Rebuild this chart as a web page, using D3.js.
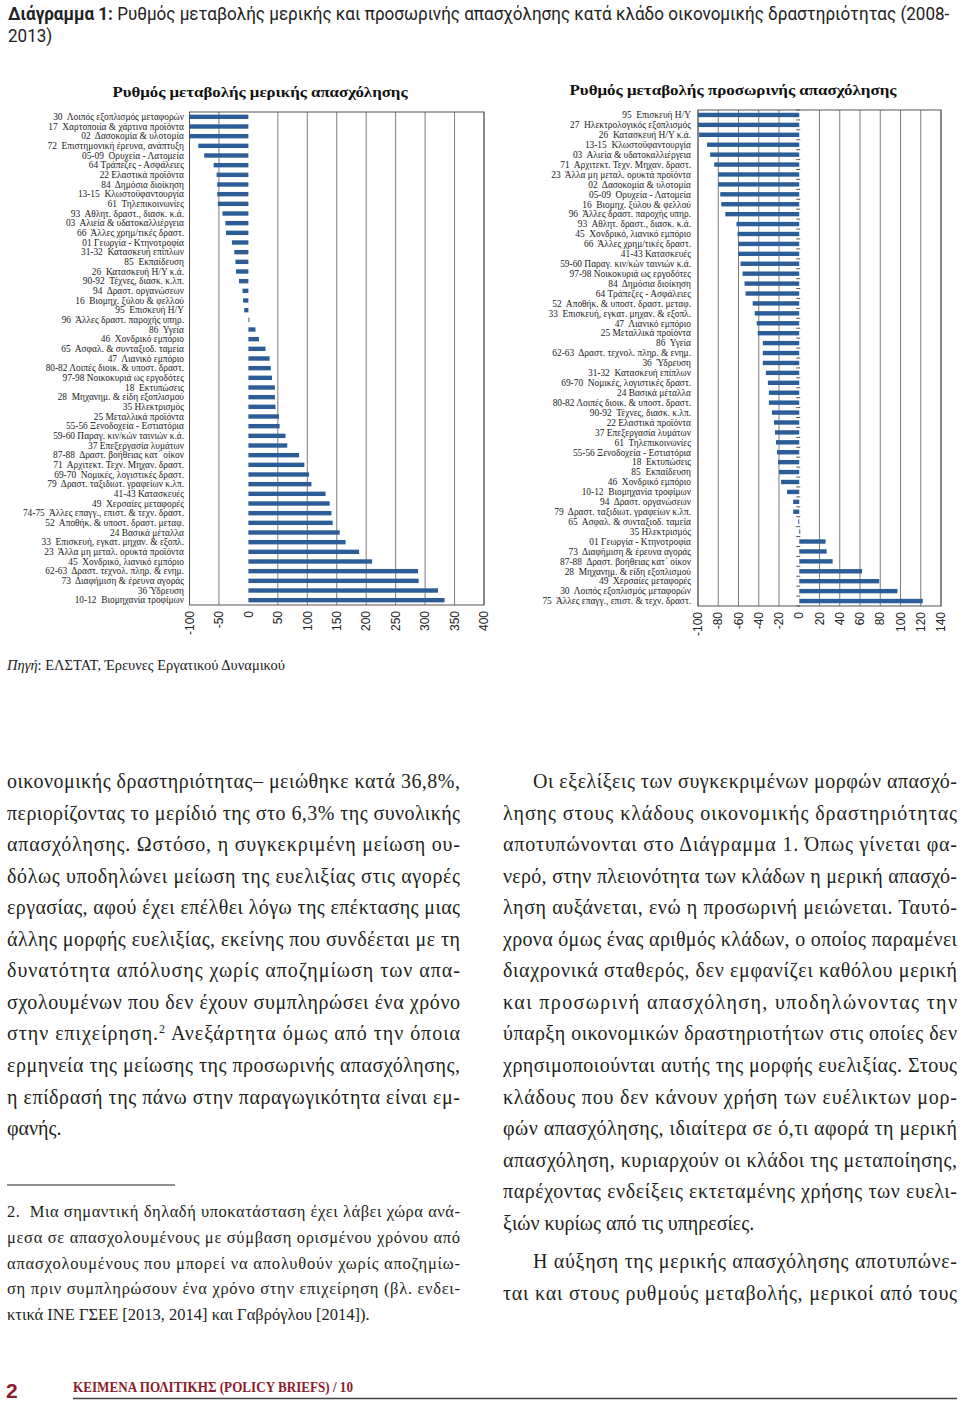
<!DOCTYPE html>
<html>
<head>
<meta charset="utf-8">
<script src="https://cdn.jsdelivr.net/npm/d3@7/dist/d3.min.js"></script>
<style>
body { margin: 0; background: #ffffff; }
</style>
</head>
<body>
<div class="page"></div>
<script>
// rate of change of part-time employment by sector, 2008-2013 (%)
var partLabels = [
    "30  Λοιπός εξοπλισμός μεταφορών", "17  Χαρτοποιία & χάρτινα προϊόντα", "02  Δασοκομία & υλοτομία",
    "72  Επιστημονική έρευνα, ανάπτυξη", "05-09  Ορυχεία - Λατομεία", "64 Τράπεζες - Ασφάλειες",
    "22 Ελαστικά προϊόντα", "84  Δημόσια διοίκηση", "13-15  Κλωστοϋφαντουργία", "61  Τηλεπικοινωνίες",
    "93  Αθλητ. δραστ., διασκ. κ.ά.", "03  Αλιεία & υδατοκαλλιέργεια", "66  Άλλες χρημ/τικές δραστ.",
    "01 Γεωργία - Κτηνοτροφία", "31-32  Κατασκευή επίπλων", "85  Εκπαίδευση", "26  Κατασκευή Η/Υ κ.ά.",
    "90-92  Τέχνες, διασκ. κ.λπ.", "94  Δραστ. οργανώσεων", "16  Βιομηχ. ξύλου & φελλού", "95  Επισκευή Η/Υ",
    "96  Άλλες δραστ. παροχής υπηρ.", "86  Υγεία", "46  Χονδρικό εμπόριο", "65  Ασφαλ. & συνταξιοδ. ταμεία",
    "47  Λιανικό εμπόριο", "80-82 Λοιπές διοικ. & υποστ. δραστ.", "97-98 Νοικοκυριά ως εργοδότες",
    "18  Εκτυπώσεις", "28  Μηχανημ. & είδη εξοπλισμού", "35 Ηλεκτρισμός", "25 Μεταλλικά προϊόντα",
    "55-56 Ξενοδοχεία - Εστιατόρια", "59-60 Παραγ. κιν/κών ταινιών κ.ά.", "37 Επεξεργασία λυμάτων",
    "87-88  Δραστ. βοήθειας κατ΄ οίκον", "71  Αρχιτεκτ. Τεχν. Μηχαν. δραστ.", "69-70  Νομικές, λογιστικές δραστ.",
    "79  Δραστ. ταξιδιωτ. γραφείων κ.λπ.", "41-43 Κατασκευές", "49  Χερσαίες μεταφορές",
    "74-75  Άλλες επαγγ., επιστ. & τεχν. δραστ.", "52  Αποθήκ. & υποστ. δραστ. μεταφ.", "24 Βασικά μέταλλα",
    "33  Επισκευή, εγκατ. μηχαν. & εξοπλ.", "23  Άλλα μη μεταλ. ορυκτά προϊόντα", "45  Χονδρικό, λιανικό εμπόριο",
    "62-63  Δραστ. τεχνολ. πληρ. & ενημ.", "73  Διαφήμιση & έρευνα αγοράς", "36 Ύδρευση", "10-12  Βιομηχανία τροφίμων"
];
var partValues = [-100, -100, -100, -85, -75, -59, -54, -53, -53, -52, -44, -39, -38, -28, -24, -22, -21, -16, -10, -9,
    -7, 1, 12, 18, 29, 36, 38, 40, 45, 45, 46, 52, 53, 63, 66, 86, 95, 103, 107, 131, 138, 141, 143, 155, 165, 188,
    210, 288, 289, 322, 333];
var partTicks = [-100, -50, 0, 50, 100, 150, 200, 250, 300, 350, 400];

// rate of change of temporary employment by sector, 2008-2013 (%)
var tempLabels = [
    "95  Επισκευή Η/Υ", "27  Ηλεκτρολογικός εξοπλισμός", "26  Κατασκευή Η/Υ κ.ά.", "13-15  Κλωστοϋφαντουργία",
    "03  Αλιεία & υδατοκαλλιέργεια", "71  Αρχιτεκτ. Τεχν. Μηχαν. δραστ.", "23  Άλλα μη μεταλ. ορυκτά προϊόντα",
    "02  Δασοκομία & υλοτομία", "05-09  Ορυχεία - Λατομεία", "16  Βιομηχ. ξύλου & φελλού",
    "96  Άλλες δραστ. παροχής υπηρ.", "93  Αθλητ. δραστ., διασκ. κ.ά.", "45  Χονδρικό, λιανικό εμπόριο",
    "66  Άλλες χρημ/τικές δραστ.", "41-43 Κατασκευές", "59-60 Παραγ. κιν/κών ταινιών κ.ά.",
    "97-98 Νοικοκυριά ως εργοδότες", "84  Δημόσια διοίκηση", "64 Τράπεζες - Ασφάλειες",
    "52  Αποθήκ. & υποστ. δραστ. μεταφ.", "33  Επισκευή, εγκατ. μηχαν. & εξοπλ.", "47  Λιανικό εμπόριο",
    "25 Μεταλλικά προϊόντα", "86  Υγεία", "62-63  Δραστ. τεχνολ. πληρ. & ενημ.", "36  Ύδρευση",
    "31-32  Κατασκευή επίπλων", "69-70  Νομικές, λογιστικές δραστ.", "24 Βασικά μέταλλα",
    "80-82 Λοιπές διοικ. & υποστ. δραστ.", "90-92  Τέχνες, διασκ. κ.λπ.", "22 Ελαστικά προϊόντα",
    "37 Επεξεργασία λυμάτων", "61  Τηλεπικοινωνίες", "55-56 Ξενοδοχεία - Εστιατόρια", "18  Εκτυπώσεις",
    "85  Εκπαίδευση", "46  Χονδρικό εμπόριο", "10-12  Βιομηχανία τροφίμων", "94  Δραστ. οργανώσεων",
    "79  Δραστ. ταξιδιωτ. γραφείων κ.λπ.", "65  Ασφαλ. & συνταξιοδ. ταμεία", "35 Ηλεκτρισμός",
    "01 Γεωργία - Κτηνοτροφία", "73  Διαφήμιση & έρευνα αγοράς", "87-88  Δραστ. βοήθειας κατ΄ οίκον",
    "28  Μηχανημ. & είδη εξοπλισμού", "49  Χερσαίες μεταφορές", "30  Λοιπός εξοπλισμός μεταφορών",
    "75  Άλλες επαγγ., επιστ. & τεχν. δραστ."
];
var tempValues = [-100, -100, -99, -91, -88, -84, -80, -80, -78, -77, -73, -62, -61, -60, -60, -58, -56, -54, -53,
    -46, -44, -42, -41, -36, -36, -36, -33, -31, -30, -30, -27, -25, -24, -23, -22, -21, -20, -18, -12, -6, -6, -1,
    1, 26, 27, 33, 62, 79, 97, 122];
var tempTicks = [-100, -80, -60, -40, -20, 0, 20, 40, 60, 80, 100, 120, 140];

// page text
var leftLines = [
    "οικονομικής δραστηριότητας– μειώθηκε κατά 36,8%,",
    "περιορίζοντας το μερίδιό της στο 6,3% της συνολικής",
    "απασχόλησης. Ωστόσο, η συγκεκριμένη μείωση ου-",
    "δόλως υποδηλώνει μείωση της ευελιξίας στις αγορές",
    "εργασίας, αφού έχει επέλθει λόγω της επέκτασης μιας",
    "άλλης μορφής ευελιξίας, εκείνης που συνδέεται με τη",
    "δυνατότητα απόλυσης χωρίς αποζημίωση των απα-",
    "σχολουμένων που δεν έχουν συμπληρώσει ένα χρόνο",
    "στην επιχείρηση.{2} Ανεξάρτητα όμως από την όποια",
    "ερμηνεία της μείωσης της προσωρινής απασχόλησης,",
    "η επίδρασή της πάνω στην παραγωγικότητα είναι εμ-",
    "φανής."
];
var rightLines1 = [
    "Οι εξελίξεις των συγκεκριμένων μορφών απασχό-",
    "λησης στους κλάδους οικονομικής δραστηριότητας",
    "αποτυπώνονται στο Διάγραμμα 1. Όπως γίνεται φα-",
    "νερό, στην πλειονότητα των κλάδων η μερική απασχό-",
    "ληση αυξάνεται, ενώ η προσωρινή μειώνεται. Ταυτό-",
    "χρονα όμως ένας αριθμός κλάδων, ο οποίος παραμένει",
    "διαχρονικά σταθερός, δεν εμφανίζει καθόλου μερική",
    "και προσωρινή απασχόληση, υποδηλώνοντας την",
    "ύπαρξη οικονομικών δραστηριοτήτων στις οποίες δεν",
    "χρησιμοποιούνται αυτής της μορφής ευελιξίας. Στους",
    "κλάδους που δεν κάνουν χρήση των ευέλικτων μορ-",
    "φών απασχόλησης, ιδιαίτερα σε ό,τι αφορά τη μερική",
    "απασχόληση, κυριαρχούν οι κλάδοι της μεταποίησης,",
    "παρέχοντας ενδείξεις εκτεταμένης χρήσης των ευελι-",
    "ξιών κυρίως από τις υπηρεσίες."
];
var rightLines2 = [
    "Η αύξηση της μερικής απασχόλησης αποτυπώνε-",
    "ται και στους ρυθμούς μεταβολής, μερικοί από τους"
];
var noteLines = [
    "2.  Μια σημαντική δηλαδή υποκατάσταση έχει λάβει χώρα ανά-",
    "μεσα σε απασχολουμένους με σύμβαση ορισμένου χρόνου από",
    "απασχολουμένους που μπορεί να απολυθούν χωρίς αποζημίω-",
    "ση πριν συμπληρώσουν ένα χρόνο στην επιχείρηση (βλ. ενδει-",
    "κτικά ΙΝΕ ΓΣΕΕ [2013, 2014] και Γαβρόγλου [2014])."
];

var w = 960, h = 1404;
var barColor = "#2b5e98";
var serif = "'Liberation Serif', 'DejaVu Serif', serif";
var narrow = "'Liberation Sans Narrow', 'Roboto', sans-serif";

var svg = d3.select(".page").append("svg")
    .attr("width", w)
    .attr("height", h);

svg.append("rect")
    .attr("width", w)
    .attr("height", h)
    .attr("fill", "#ffffff");

// page heading, squeezed horizontally to fit the line
var head = svg.append("text")
    .attr("x", 0)
    .attr("y", 0)
    .style("font-family", narrow)
    .style("font-size", "18.5px")
    .style("fill", "#222");
head.append("tspan").style("font-weight", "bold").text("Διάγραμμα 1: ");
head.append("tspan").text("Ρυθμός μεταβολής μερικής και προσωρινής απασχόλησης κατά κλάδο οικονομικής δραστηριότητας (2008-");
var headLen = head.node().getComputedTextLength();
var sx = Math.min(1, 942 / headLen);
head.attr("transform", "translate(8,20)scale(" + sx + ",1)");
svg.append("text")
    .attr("transform", "translate(8,42)scale(" + sx + ",1)")
    .style("font-family", narrow)
    .style("font-size", "18.5px")
    .style("fill", "#222")
    .text("2013)");

function drawChart(labels, values, ticks, box) {
    var g = svg.append("g");

    var x = d3.scaleLinear()
        .domain([ticks[0], ticks[ticks.length - 1]])
        .range([box.left, box.right]);
    var y = d3.scaleBand()
        .domain(d3.range(labels.length))
        .range([box.top, box.bottom]);

    g.append("text")
        .attr("x", box.titleX)
        .attr("y", box.titleY)
        .attr("text-anchor", "middle")
        .attr("textLength", box.titleW)
        .attr("lengthAdjust", "spacingAndGlyphs")
        .style("font-family", serif)
        .style("font-weight", "bold")
        .style("font-size", "15px")
        .style("fill", "#111")
        .text(box.title);

    // vertical grid, zero line left out
    g.append("g").selectAll("line")
        .data(ticks.filter(function(d) { return d !== 0; }))
        .enter().append("line")
        .attr("x1", function(d) { return x(d); })
        .attr("x2", function(d) { return x(d); })
        .attr("y1", box.top)
        .attr("y2", box.bottom)
        .style("stroke", "#7d7d7d")
        .style("stroke-width", "1px");

    g.append("rect")
        .attr("x", box.left)
        .attr("y", box.top)
        .attr("width", box.right - box.left)
        .attr("height", box.bottom - box.top)
        .attr("fill", "none")
        .style("stroke", "#555")
        .style("stroke-width", "1px");

    g.append("g").selectAll("rect")
        .data(values)
        .enter().append("rect")
        .attr("x", function(d) { return x(Math.min(0, d)); })
        .attr("width", function(d) { return Math.max(1, Math.abs(x(d) - x(0))); })
        .attr("y", function(d, i) { return y(i) + y.bandwidth() / 2 - 2.2; })
        .attr("height", 4.4)
        .attr("fill", barColor);

    if (box.zeroTicks) {
        g.append("g").selectAll("line")
            .data(d3.range(labels.length + 1))
            .enter().append("line")
            .attr("x1", x(0) - 3)
            .attr("x2", x(0) + 1)
            .attr("y1", function(i) { return box.top + i * y.step(); })
            .attr("y2", function(i) { return box.top + i * y.step(); })
            .style("stroke", "#555")
            .style("stroke-width", "1px");
    }

    g.append("g").selectAll("text")
        .data(labels)
        .enter().append("text")
        .attr("x", box.labelX)
        .attr("y", function(d, i) { return y(i) + y.bandwidth() / 2; })
        .attr("dy", "0.35em")
        .attr("text-anchor", "end")
        .style("font-family", serif)
        .style("font-size", "9.4px")
        .style("fill", "#222")
        .style("white-space", "pre")
        .text(function(d) { return d; });

    g.append("g").selectAll("text")
        .data(ticks)
        .enter().append("text")
        .attr("transform", function(d) { return "translate(" + x(d) + "," + (box.bottom + 6) + ")rotate(-90)"; })
        .attr("dy", "0.35em")
        .attr("text-anchor", "end")
        .style("font-family", "'Liberation Sans', Arial, sans-serif")
        .style("font-size", "12px")
        .style("fill", "#222")
        .text(function(d) { return d; });
}

drawChart(partLabels, partValues, partTicks, {
    left: 189.5, right: 484, top: 112, bottom: 605, labelX: 184,
    title: "Ρυθμός μεταβολής μερικής απασχόλησης", titleX: 260, titleY: 97, titleW: 295
});
drawChart(tempLabels, tempValues, tempTicks, {
    left: 698, right: 941, top: 110, bottom: 606, labelX: 691, zeroTicks: true,
    title: "Ρυθμός μεταβολής προσωρινής απασχόλησης", titleX: 733, titleY: 95, titleW: 327
});

// source
var src = svg.append("text")
    .attr("x", 7)
    .attr("y", 670)
    .style("font-family", serif)
    .style("font-size", "14.5px")
    .style("fill", "#222");
src.append("tspan").style("font-style", "italic").text("Πηγή");
src.append("tspan").text(": ΕΛΣΤΑΤ, Έρευνες Εργατικού Δυναμικού");

// justified lines; last line of a block stays ragged
function drawLines(lines, x0, width, y0, step, size, indent, lastRagged) {
    lines.forEach(function(line, i) {
        var xi = x0 + (i === 0 ? indent : 0);
        var t = svg.append("text")
            .attr("x", xi)
            .attr("y", y0 + i * step)
            .style("font-family", serif)
            .style("font-size", size + "px")
            .style("fill", "#231f20")
            .style("white-space", "pre");
        if (!(lastRagged && i === lines.length - 1)) {
            t.attr("textLength", width - (xi - x0)).attr("lengthAdjust", "spacing");
        }
        var parts = line.split("{2}");
        t.append("tspan").text(parts[0]);
        if (parts.length > 1) {
            t.append("tspan").attr("dy", -7).style("font-size", (size * 0.6) + "px").text("2");
            t.append("tspan").attr("dy", 7).text(parts[1]);
        }
    });
}

drawLines(leftLines, 7, 453, 788, 31.55, 20, 0, true);
drawLines(rightLines1, 503, 454, 788, 31.55, 20, 30, true);
drawLines(rightLines2, 503, 454, 1268, 31.55, 20, 30, false);

svg.append("line")
    .attr("x1", 7).attr("x2", 175)
    .attr("y1", 1185).attr("y2", 1185)
    .style("stroke", "#222")
    .style("stroke-width", "1.2px");

drawLines(noteLines, 7, 453, 1217, 25.8, 16.5, 0, true);

// footer
svg.append("text")
    .attr("x", 6)
    .attr("y", 1398)
    .style("font-family", "'Liberation Sans', Arial, sans-serif")
    .style("font-weight", "bold")
    .style("font-size", "21px")
    .style("fill", "#8b1c2e")
    .text("2");
svg.append("text")
    .attr("x", 73)
    .attr("y", 1392)
    .attr("textLength", 280)
    .attr("lengthAdjust", "spacingAndGlyphs")
    .style("font-family", serif)
    .style("font-size", "15px")
    .style("font-weight", "bold")
    .style("fill", "#8b1c2e")
    .text("ΚΕΙΜΕΝΑ ΠΟΛΙΤΙΚΗΣ (POLICY BRIEFS)  /  10");
svg.append("line")
    .attr("x1", 73).attr("x2", 957)
    .attr("y1", 1398.5).attr("y2", 1398.5)
    .style("stroke", "#444")
    .style("stroke-width", "1.5px");
</script>
</body>
</html>
